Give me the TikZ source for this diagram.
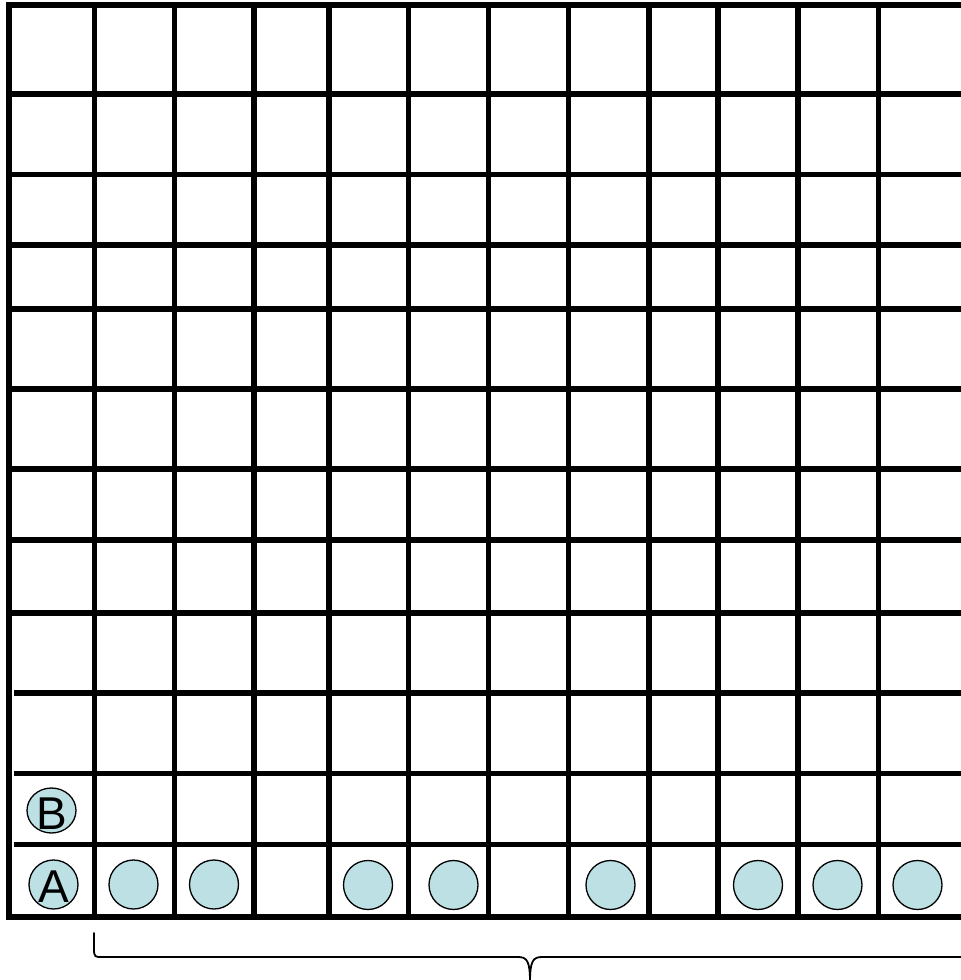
\documentclass[tikz,border=0pt]{standalone}
\usepackage{fontspec}
\setmainfont{Liberation Sans}
\usetikzlibrary{shapes.geometric}
\definecolor{disccol}{RGB}{188,224,228}
\begin{document}
\begin{tikzpicture}[x=1pt,y=-1pt,
  gridline/.style={line width=5.5pt, line cap=rect},
  gridlinebutt/.style={line width=5.5pt, line cap=butt},
  disc/.style={circle, draw=black, line width=1.3pt, fill=disccol, minimum size=49pt, inner sep=0pt},
  discB/.style={ellipse, draw=black, line width=1.3pt, fill=disccol, minimum width=49pt, minimum height=45pt, inner sep=0pt},
  letter/.style={inner sep=0pt, font=\fontsize{46}{46}\selectfont},
  bracketline/.style={line width=1.8pt, line cap=round, line join=round}]
\useasboundingbox (0,0) rectangle (961,980);
\begin{scope}
\clip (0,0) rectangle (961,980);
% vertical lines
\foreach \x in {9,94.5,174.5,254,329,408.5,488.5,568.5,649,718,798,878.5}
  \draw[gridline] (\x,5) -- (\x,917);
% horizontal lines
\foreach \y in {5,94,174.5,245,309,389,469,540,613,917}
  \draw[gridline] (9,\y) -- (970,\y);
\foreach \y in {693,773.5,844.5}
  \draw[gridlinebutt] (14,\y) -- (970,\y);
% discs
\node[disc] (A) at (53.5,884.5) {};
\node[letter] (Alab) at (53.5,887) {A};
\node[discB] (B) at (51.5,810.5) {};
\node[letter] (Blab) at (52,814) {B};
\node[disc] (d2) at (133.5,884.5) {};
\node[disc] (d3) at (214,884.5) {};
\node[disc] (d5) at (368,885) {};
\node[disc] (d6) at (453.5,885) {};
\node[disc] (d8) at (610.5,885) {};
\node[disc] (d10) at (758,885) {};
\node[disc] (d11) at (837.5,885) {};
\node[disc] (d12) at (917.5,885) {};
% bracket
\coordinate (bl) at (94,933);
\coordinate (tip) at (530,982);
\coordinate (br) at (975,957);
\draw[bracketline] (bl) -- (94,949) .. controls (94,957) and (95,957) .. (102,957)
  -- (518,957) .. controls (527,957) and (530,961) .. (tip);
\draw[bracketline] (br) -- (542,957) .. controls (533,957) and (530,961) .. (tip);
\end{scope}
\end{tikzpicture}
\end{document}
